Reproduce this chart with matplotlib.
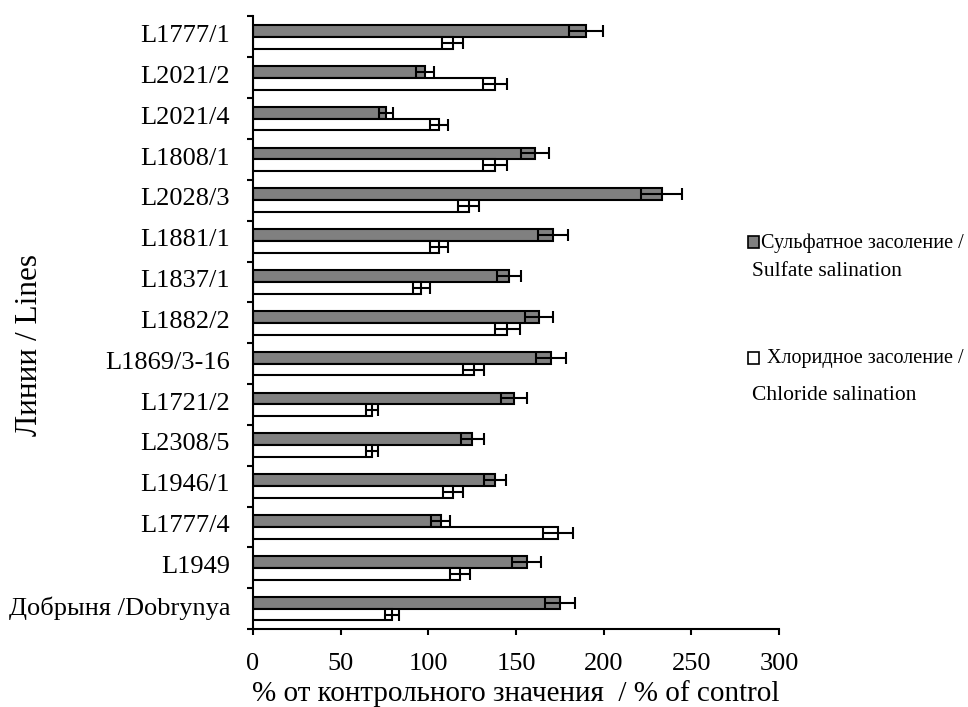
import matplotlib
matplotlib.use("Agg")
import matplotlib.pyplot as plt
from matplotlib.patches import Rectangle
import numpy as np

categories = ["L1777/1", "L2021/2", "L2021/4", "L1808/1", "L2028/3", "L1881/1",
              "L1837/1", "L1882/2", "L1869/3-16", "L1721/2", "L2308/5", "L1946/1",
              "L1777/4", "L1949", "Добрыня /Dobrynya"]
sulfate = [190, 98, 76, 161, 233, 171, 146, 163, 170, 149, 125, 138, 107, 156, 175]
sulfate_err = [9.5, 5, 4, 8, 11.5, 8.5, 7, 8, 8.5, 7.5, 6.5, 6.5, 5.5, 8, 8.5]
chloride = [114, 138, 106, 138, 123, 106, 96, 145, 126, 68, 68, 114, 174, 118, 79]
chloride_err = [6, 7, 5, 7, 6, 5, 5, 7, 6, 3.5, 3.5, 5.5, 8.5, 5.5, 4]
xticks = [0, 50, 100, 150, 200, 250, 300]

sulfate_label = ["Сульфатное засоление /", "Sulfate salination"]
chloride_label = ["Хлоридное засоление /", "Chloride salination"]
xlabel = "% от контрольного значения  / % of control"
ylabel = "Линии / Lines"

plt.rcParams['font.family'] = ['Liberation Serif', 'DejaVu Serif']
FS = 19

W, H = 968, 707
fig = plt.figure(figsize=(W / 100, H / 100), dpi=100)
ax = fig.add_axes([253 / W, 1 - 629 / H, (779 - 253) / W, (629 - 16.5) / H])

y = np.arange(len(categories))
h = 0.29
gray = "#808080"
ax.barh(y - h / 2, sulfate, height=h, color=gray, edgecolor="black", linewidth=1.5, zorder=2)
ax.barh(y + h / 2, chloride, height=h, color="white", edgecolor="black", linewidth=1.5, zorder=2)
ax.errorbar(sulfate, y - h / 2, xerr=sulfate_err, fmt="none", ecolor="black",
            elinewidth=1.5, capsize=4, capthick=1.5, zorder=3)
ax.errorbar(chloride, y + h / 2, xerr=chloride_err, fmt="none", ecolor="black",
            elinewidth=1.5, capsize=4, capthick=1.5, zorder=3)

ax.set_xlim(0, 300)
ax.set_ylim(len(categories) - 0.5, -0.5)
ax.set_xticks(xticks)
ax.set_xticklabels([str(v) for v in xticks], fontsize=FS)
ax.set_yticks(y - 0.08)
ax.set_yticklabels(categories, fontsize=FS)
ax.set_yticks(np.arange(len(categories) + 1) - 0.5, minor=True)
ax.tick_params(axis="y", which="major", length=0, pad=16.5)
ax.tick_params(axis="y", which="minor", length=4.5, width=1.5, direction="out")
ax.tick_params(axis="x", which="major", length=4.5, width=1.5, direction="out", pad=12.5)

for s in ["top", "right"]:
    ax.spines[s].set_visible(False)
for s in ["left", "bottom"]:
    ax.spines[s].set_linewidth(1.5)

ax.set_xlabel(xlabel, fontsize=21, labelpad=4)
fig.text(30 / W, 1 - 345 / H, ylabel, rotation=90, fontsize=22.5, ha="center", va="center")

# legend drawn manually
def legend_item(face, sq_y, l1_y, l2_y, lines, tx):
    fig.patches.append(Rectangle((748 / W, 1 - (sq_y + 6) / H), 11 / W, 12 / H,
                                 transform=fig.transFigure, facecolor=face,
                                 edgecolor="black", linewidth=1.2))
    fig.text(tx / W, 1 - l1_y / H, lines[0], fontsize=14.5, ha="left", va="center")
    fig.text(752 / W, 1 - l2_y / H, lines[1], fontsize=15.5, ha="left", va="center")

legend_item(gray, 242, 243, 271, sulfate_label, 761)
legend_item("white", 358, 358, 396, chloride_label, 767)

fig.savefig("out.png", dpi=100)
